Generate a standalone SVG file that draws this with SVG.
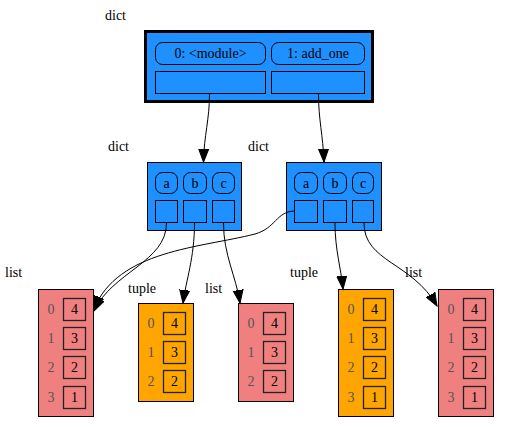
<svg xmlns="http://www.w3.org/2000/svg" width="509" height="427" viewBox="0 0 509 427" style="font-family:'Liberation Serif',serif;font-size:14px">
<style>
.idx{fill:#555;text-anchor:middle}
.v{text-anchor:middle}
.blue{fill:#1e90ff;stroke:#000}
.coral{fill:#f08080;stroke:#000}
.orange{fill:#ffa500;stroke:#000}
.cell{fill:none;stroke:#000;stroke-width:1}
.cellc{fill:none;stroke:#222;stroke-width:1.3}
.edge{fill:none;stroke:#000;stroke-width:1}
</style>
<defs>
<marker id="arrowhead" markerUnits="userSpaceOnUse" markerWidth="16" markerHeight="14" refX="13" refY="7" orient="auto">
<path d="M0,2 L13,7 L0,12 Z" fill="#000" stroke="#000"/>
</marker>
</defs>

<g id="dict_top">
<text style="font-family:'Liberation Serif',serif;font-size:14px" x="105" y="20">dict</text>
<rect class="blue" x="145.5" y="31.5" width="227" height="70" stroke-width="3"/>
<rect class="cell" x="155.5" y="42.5" width="110" height="22" rx="7"/>
<text class="v" style="font-family:'Liberation Serif',serif;font-size:14px" x="210.5" y="58">0: &lt;module&gt;</text>
<rect class="cell" x="271.5" y="42.5" width="93" height="22" rx="7"/>
<text class="v" style="font-family:'Liberation Serif',serif;font-size:14px" x="318" y="58">1: add_one</text>
<rect class="cell" x="155.5" y="71.5" width="110" height="22"/>
<rect class="cell" x="271.5" y="71.5" width="93" height="22"/>
</g>

<g id="dict1" style="font-family:'Liberation Serif',serif;font-size:14px">
<text x="108" y="151">dict</text>
<rect class="blue" x="147.5" y="162.5" width="94" height="68"/>
<rect class="cell" x="155.5" y="172.5" width="22" height="21" rx="7"/>
<text class="v" x="166.5" y="188">a</text>
<rect class="cell" x="183.5" y="172.5" width="23" height="21" rx="7"/>
<text class="v" x="195" y="188">b</text>
<rect class="cell" x="212.5" y="172.5" width="22" height="21" rx="7"/>
<text class="v" x="223.5" y="188">c</text>
<rect class="cell" x="155.5" y="200.5" width="22" height="22"/>
<rect class="cell" x="183.5" y="200.5" width="23" height="22"/>
<rect class="cell" x="212.5" y="200.5" width="22" height="22"/>
</g>

<g id="dict2" style="font-family:'Liberation Serif',serif;font-size:14px">
<text x="248" y="151">dict</text>
<rect class="blue" x="286.5" y="162.5" width="95" height="68"/>
<rect class="cell" x="294.5" y="172.5" width="23" height="21" rx="7"/>
<text class="v" x="306" y="188">a</text>
<rect class="cell" x="323.5" y="172.5" width="23" height="21" rx="7"/>
<text class="v" x="335" y="188">b</text>
<rect class="cell" x="352.5" y="172.5" width="21" height="21" rx="7"/>
<text class="v" x="363" y="188">c</text>
<rect class="cell" x="294.5" y="200.5" width="23" height="22"/>
<rect class="cell" x="323.5" y="200.5" width="23" height="22"/>
<rect class="cell" x="352.5" y="200.5" width="21" height="22"/>
</g>

<g id="list1" style="font-family:'Liberation Serif',serif;font-size:14px">
<text x="5" y="277">list</text>
<rect class="coral" x="38.5" y="289.5" width="55" height="127"/>
<text class="idx" x="51" y="314">0</text><rect class="cellc" x="63.5" y="298.5" width="22" height="22"/><text class="v" x="74.5" y="314">4</text>
<text class="idx" x="51" y="343">1</text><rect class="cellc" x="63.5" y="327.5" width="22" height="22"/><text class="v" x="74.5" y="343">3</text>
<text class="idx" x="51" y="372">2</text><rect class="cellc" x="63.5" y="356.5" width="22" height="22"/><text class="v" x="74.5" y="372">2</text>
<text class="idx" x="51" y="402">3</text><rect class="cellc" x="63.5" y="386.5" width="22" height="22"/><text class="v" x="74.5" y="402">1</text>
</g>

<g id="tuple1" style="font-family:'Liberation Serif',serif;font-size:14px">
<text x="128" y="293">tuple</text>
<rect class="orange" x="138.5" y="303.5" width="55" height="98"/>
<text class="idx" x="151" y="328">0</text><rect class="cellc" x="163.5" y="312.5" width="22" height="22"/><text class="v" x="174.5" y="328">4</text>
<text class="idx" x="151" y="357">1</text><rect class="cellc" x="163.5" y="341.5" width="22" height="22"/><text class="v" x="174.5" y="357">3</text>
<text class="idx" x="151" y="386">2</text><rect class="cellc" x="163.5" y="370.5" width="22" height="22"/><text class="v" x="174.5" y="386">2</text>
</g>

<g id="list2" style="font-family:'Liberation Serif',serif;font-size:14px">
<text x="205" y="293">list</text>
<rect class="coral" x="238.5" y="303.5" width="55" height="98"/>
<text class="idx" x="251" y="328">0</text><rect class="cellc" x="263.5" y="312.5" width="22" height="22"/><text class="v" x="274.5" y="328">4</text>
<text class="idx" x="251" y="357">1</text><rect class="cellc" x="263.5" y="341.5" width="22" height="22"/><text class="v" x="274.5" y="357">3</text>
<text class="idx" x="251" y="386">2</text><rect class="cellc" x="263.5" y="370.5" width="22" height="22"/><text class="v" x="274.5" y="386">2</text>
</g>

<g id="tuple2" style="font-family:'Liberation Serif',serif;font-size:14px">
<text x="290" y="277">tuple</text>
<rect class="orange" x="338.5" y="289.5" width="55" height="127"/>
<text class="idx" x="351" y="314">0</text><rect class="cellc" x="363.5" y="298.5" width="22" height="22"/><text class="v" x="374.5" y="314">4</text>
<text class="idx" x="351" y="343">1</text><rect class="cellc" x="363.5" y="327.5" width="22" height="22"/><text class="v" x="374.5" y="343">3</text>
<text class="idx" x="351" y="372">2</text><rect class="cellc" x="363.5" y="356.5" width="22" height="22"/><text class="v" x="374.5" y="372">2</text>
<text class="idx" x="351" y="402">3</text><rect class="cellc" x="363.5" y="386.5" width="22" height="22"/><text class="v" x="374.5" y="402">1</text>
</g>

<g id="list3" style="font-family:'Liberation Serif',serif;font-size:14px">
<text x="405" y="277">list</text>
<rect class="coral" x="438.5" y="289.5" width="55" height="127"/>
<text class="idx" x="451" y="314">0</text><rect class="cellc" x="463.5" y="298.5" width="22" height="22"/><text class="v" x="474.5" y="314">4</text>
<text class="idx" x="451" y="343">1</text><rect class="cellc" x="463.5" y="327.5" width="22" height="22"/><text class="v" x="474.5" y="343">3</text>
<text class="idx" x="451" y="372">2</text><rect class="cellc" x="463.5" y="356.5" width="22" height="22"/><text class="v" x="474.5" y="372">2</text>
<text class="idx" x="451" y="402">3</text><rect class="cellc" x="463.5" y="386.5" width="22" height="22"/><text class="v" x="474.5" y="402">1</text>
</g>

<g id="connectors">
<path class="edge" marker-end="url(#arrowhead)" d="M209.5,94 C209.5,120 204,135 203.5,162"/>
<path class="edge" marker-end="url(#arrowhead)" d="M318.5,94 C318.5,120 323,135 324,162"/>
<path class="edge" marker-end="url(#arrowhead)" d="M166.5,223 C166.5,262 112,272 94,311"/>
<path class="edge" marker-end="url(#arrowhead)" d="M294,211 C276,212 276,228 255,234 C200,248 118,250 94,309"/>
<path class="edge" marker-end="url(#arrowhead)" d="M194.5,223 C194.5,258 186,280 183,303"/>
<path class="edge" marker-end="url(#arrowhead)" d="M223.5,223 C223.5,255 236,276 240,303"/>
<path class="edge" marker-end="url(#arrowhead)" d="M335,223 C335,250 341,268 343,289"/>
<path class="edge" marker-end="url(#arrowhead)" d="M364,223 C364,262 412,262 437,306"/>
</g>
</svg>
